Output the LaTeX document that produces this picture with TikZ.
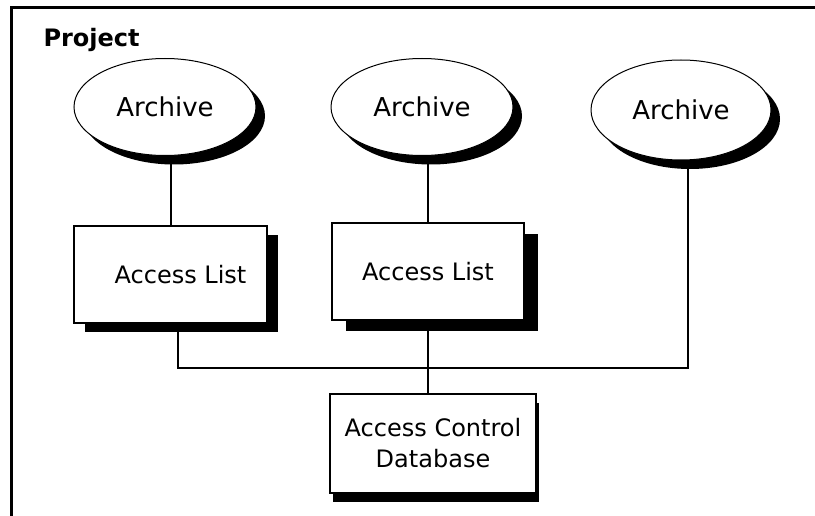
\documentclass[tikz,border=0pt]{standalone}
\usepackage{fontspec}
\setmainfont{DejaVu Sans}
\usepackage{tikz}
\usetikzlibrary{positioning, shapes.geometric, shadows}

\begin{document}
\begin{tikzpicture}[
    x=1pt, y=-1pt,
    archive/.style={draw, ellipse, fill=white, line width=1pt, inner sep=0pt,
        minimum width=182pt, minimum height=97pt, font=\fontsize{26}{31}\selectfont,
        drop shadow={shadow xshift=9pt, shadow yshift=-9pt, fill=black, opacity=1}},
    acbox/.style={draw, rectangle, fill=white, line width=2pt, align=center,
        font=\fontsize{24}{31}\selectfont},
    wire/.style={line width=2pt},
    frame/.style={line width=3pt},
]
  \useasboundingbox (0,0) rectangle (815,516);

  \draw[frame] (11,516) -- (11,8) -- (815,8);
  \node[anchor=base west, font=\fontsize{24}{30}\selectfont\bfseries] (proj) at (40,47) {Project};

  \node[archive] (arc1) at (165,107) {Archive};
  \node[archive] (arc2) at (422,107) {Archive};
  \node[archive, minimum width=180pt, minimum height=100pt] (arc3) at (681,110) {Archive};

  \node[acbox, minimum width=193pt, minimum height=97pt,
        drop shadow={shadow xshift=11pt, shadow yshift=-9pt, fill=black, opacity=1}]
        (acl1) at (170.5,274.5) {\hspace*{20pt}Access List};
  \node[acbox, minimum width=192pt, minimum height=97pt,
        drop shadow={shadow xshift=14pt, shadow yshift=-11pt, fill=black, opacity=1}]
        (acl2) at (428,271.5) {Access List};
  \node[acbox, minimum width=206pt, minimum height=99pt,
        drop shadow={shadow xshift=3pt, shadow yshift=-9pt, fill=black, opacity=1}]
        (acdb) at (433,443.5) {Access Control\\Database};

  \coordinate (jn) at (428,368);

  \draw[wire] (acl1.north) -- (acl1.north |- arc1.south);
  \draw[wire] (acl2.north) -- (acl2.north |- arc2.south);
  \draw[wire] ([xshift=7pt]acl1.south) |- (jn) -| ([xshift=7pt]arc3.south);
  \draw[wire] (acl2.south) -- (acl2.south |- acdb.north);
\end{tikzpicture}
\end{document}
